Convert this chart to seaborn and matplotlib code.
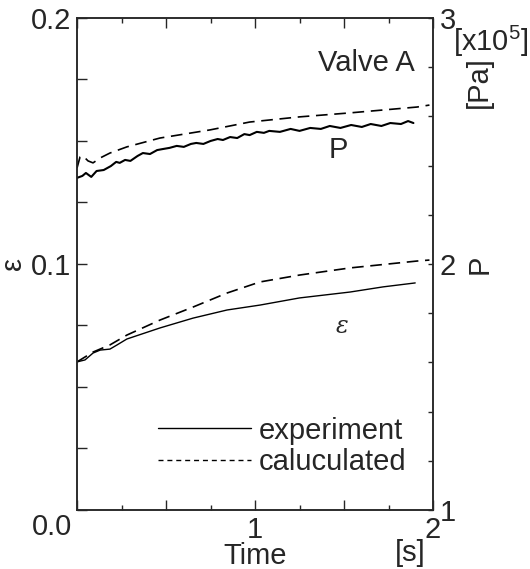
import numpy as np
import pandas as pd
import matplotlib
matplotlib.use("Agg")
import matplotlib.pyplot as plt
import matplotlib.ticker as ticker
from matplotlib.lines import Line2D
import seaborn as sns

# strain epsilon, experiment
t_eps_exp = [0.0, 0.045, 0.09, 0.13, 0.185, 0.225, 0.28, 0.466, 0.652, 0.843,
             1.028, 1.25, 1.534, 1.72, 1.90]
eps_exp = [0.0602, 0.0610, 0.0638, 0.0650, 0.0654, 0.0671, 0.0695, 0.0740, 0.0780, 0.0813,
           0.0833, 0.0862, 0.0886, 0.0907, 0.0923]

# strain epsilon, calculated
t_eps_calc = [0.0, 0.09, 0.185, 0.28, 0.466, 0.652, 0.843, 1.028, 1.25, 1.534, 1.91, 1.98]
eps_calc = [0.0602, 0.0642, 0.0671, 0.0711, 0.0772, 0.0825, 0.0882, 0.0927, 0.0955, 0.0984,
            0.1012, 0.1016]

# pressure P [x10^5 Pa], experiment (noisy trace)
t_p_exp = [0.00, 0.03, 0.05, 0.08, 0.11, 0.15, 0.19, 0.22, 0.24, 0.27,
           0.30, 0.34, 0.37, 0.41, 0.45, 0.48, 0.52, 0.56, 0.60, 0.64,
           0.67, 0.71, 0.75, 0.79, 0.82, 0.86, 0.90, 0.94, 0.97, 1.01,
           1.05, 1.08, 1.14, 1.20, 1.25, 1.31, 1.37, 1.42, 1.48, 1.54,
           1.60, 1.65, 1.71, 1.76, 1.82, 1.86, 1.89]
p_exp = [2.350, 2.358, 2.370, 2.354, 2.378, 2.382, 2.398, 2.415, 2.411, 2.423,
         2.419, 2.439, 2.451, 2.447, 2.463, 2.467, 2.472, 2.480, 2.476, 2.488,
         2.492, 2.488, 2.500, 2.508, 2.504, 2.516, 2.512, 2.528, 2.524, 2.537,
         2.533, 2.541, 2.537, 2.549, 2.541, 2.553, 2.549, 2.561, 2.553, 2.565,
         2.557, 2.569, 2.561, 2.573, 2.569, 2.581, 2.573]

# pressure P, calculated
t_p_calc = [0.0, 0.017, 0.034, 0.062, 0.09, 0.13, 0.185, 0.28, 0.466, 0.747,
            0.97, 1.25, 1.53, 1.91, 1.98]
p_calc = [2.390, 2.435, 2.439, 2.419, 2.411, 2.431, 2.451, 2.476, 2.512, 2.545,
          2.577, 2.598, 2.614, 2.638, 2.646]

x_labelled = {1.0: "1", 2.0: "2"}
legend_labels = ["experiment", "caluculated"]

sns.set_style("ticks")
plt.rcParams["font.family"] = ["Liberation Sans", "DejaVu Sans"]
plt.rcParams["mathtext.fontset"] = "custom"
plt.rcParams["mathtext.rm"] = "Liberation Sans"
plt.rcParams["axes.linewidth"] = 1.1

tick_fs = 21
text_fs = 21

fig = plt.figure(figsize=(5.3, 5.69), dpi=100)
ax = fig.add_axes([0.1453, 0.1037, 0.6717, 0.8647])
twin = ax.twinx()

df_eps_exp = pd.DataFrame({"t": t_eps_exp, "v": eps_exp})
df_eps_calc = pd.DataFrame({"t": t_eps_calc, "v": eps_calc})
df_p_exp = pd.DataFrame({"t": t_p_exp, "v": p_exp})
df_p_calc = pd.DataFrame({"t": t_p_calc, "v": p_calc})

long_dash = (0, (7, 4))
sns.lineplot(data=df_eps_exp, x="t", y="v", ax=ax, color="black", lw=1.0,
             estimator=None, sort=False)
sns.lineplot(data=df_eps_calc, x="t", y="v", ax=ax, color="black", lw=1.2,
             linestyle=long_dash, estimator=None, sort=False)
sns.lineplot(data=df_p_exp, x="t", y="v", ax=twin, color="black", lw=1.5,
             estimator=None, sort=False)
sns.lineplot(data=df_p_calc, x="t", y="v", ax=twin, color="black", lw=1.2,
             linestyle=long_dash, estimator=None, sort=False)

# left / bottom axes
ax.set_xlim(0, 2)
ax.set_ylim(0, 0.2)
ax.xaxis.set_major_locator(ticker.MultipleLocator(0.5))
ax.xaxis.set_minor_locator(ticker.MultipleLocator(0.25))
ax.xaxis.set_major_formatter(
    ticker.FuncFormatter(lambda v, pos: x_labelled.get(round(v, 2), "")))
ax.set_yticks([0, 0.1, 0.2])
ax.set_yticklabels(["", "0.1", "0.2"])
ax.yaxis.set_minor_locator(ticker.MultipleLocator(0.025))
ax.tick_params(axis="x", which="both", direction="in", top=True, bottom=True,
               labelsize=tick_fs, pad=4, width=1.0)
ax.tick_params(axis="x", which="major", length=7)
ax.tick_params(axis="x", which="minor", length=3.5)
ax.tick_params(axis="y", which="both", direction="in", left=True, right=False,
               labelsize=tick_fs, pad=4, width=1.0, length=7)
ax.annotate("0.0", xy=(0, 0), xycoords="axes fraction", xytext=(-3.5, -2),
            textcoords="offset points", ha="right", va="top", fontsize=tick_fs)

ax.set_ylabel("ε", fontsize=text_fs, labelpad=3)
ax.annotate("[s]", xy=(0.935, -0.088), xycoords="axes fraction",
            ha="center", va="center", fontsize=text_fs)

# right axis: pressure
twin.set_ylim(1, 3)
twin.set_yticks([1, 2, 3])
twin.yaxis.set_minor_locator(ticker.MultipleLocator(0.2))
twin.tick_params(axis="y", which="both", direction="in", right=True,
                 labelsize=tick_fs, pad=5, width=1.0, length=3.5)
twin.set_ylabel("P", fontsize=text_fs, labelpad=7)
twin.annotate("[Pa]", xy=(1.13, 0.87), xycoords="axes fraction", rotation=90,
              ha="center", va="center", fontsize=text_fs)
twin.annotate("[x10$^5$]", xy=(1.163, 0.952), xycoords="axes fraction",
              ha="center", va="center", fontsize=text_fs)
twin.set_xlabel("")
ax.set_xlabel("Time", fontsize=text_fs, labelpad=-1)

# in-plot labels
ax.text(0.812, 0.9085, "Valve A", transform=ax.transAxes, ha="center", va="center",
        fontsize=text_fs)
ax.text(0.733, 0.732, "P", transform=ax.transAxes, ha="center", va="center",
        fontsize=text_fs)
ax.text(0.744, 0.372, "ε", transform=ax.transAxes, ha="center", va="center",
        fontsize=17, family="DejaVu Serif", style="italic")

handles = [Line2D([], [], color="black", lw=1.0),
           Line2D([], [], color="black", lw=1.0, linestyle=(0, (3.6, 2.8)))]
ax.legend(handles=handles, labels=legend_labels, loc="upper left",
          bbox_to_anchor=(0.2275, 0.19), frameon=False, fontsize=text_fs,
          handlelength=3.2, handletextpad=0.25, labelspacing=0.12,
          borderpad=0, borderaxespad=0)

fig.savefig("out.png", dpi=100)
